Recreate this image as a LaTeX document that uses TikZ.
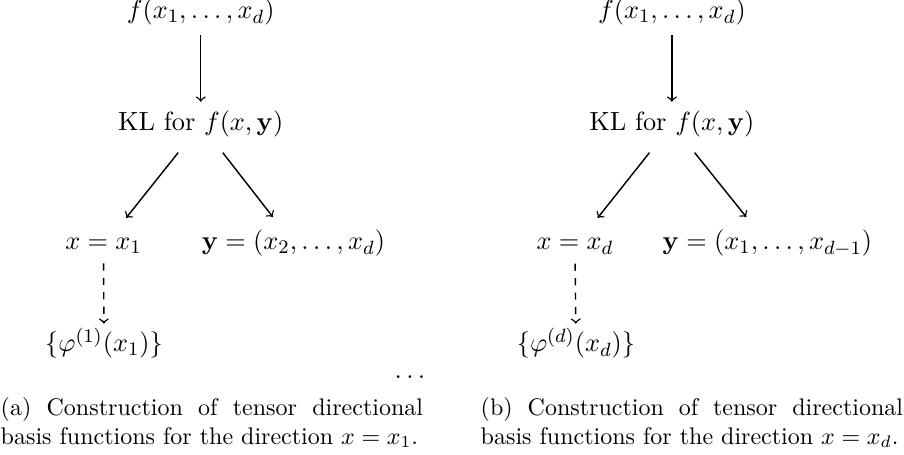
\documentclass[11pt,tikz,border=0pt]{standalone}
\begin{document}
\begin{tikzpicture}[every node/.style={anchor=base}, >=to, semithick,
    split/.style={->, shorten <=3pt},
    capt/.style={anchor=base west, text width=176pt, align=justify, font=\small,
        inner sep=0pt, execute at begin node={\hyphenpenalty=10000}}]
        \useasboundingbox (0, 0) rectangle (13.24, 6.663);
        % (a)
        \node (f1) at (2.94, 6.385) {$f(x_1, \ldots, x_d)$};
        \node (kl1) at (2.94, 4.745) {KL for $f(x, \mathbf{y})$};
        \node (x1) at (1.516, 3.002) {$x = x_1$};
        \node (y1) at (4.298, 3.002) {$\mathbf{y} = (x_2, \ldots, x_d)$};
        \node[inner sep=1.5pt] (phi1) at (1.523, 1.508) {$\{\varphi^{(1)}(x_1)\}$};
        \node (dots) at (6.004, 1.113) {$\ldots$};
        \draw[->] (f1) -- (kl1);
        \draw[split, shorten >=6pt] (kl1) -- (x1);
        \draw[split, shorten >=2pt] (kl1) -- (y1);
        \draw[->, dashed] (x1) -- (phi1);
        \node[capt] (capa) at (0, 0.578) {(a) Construction of tensor directional basis functions for the direction $x = x_1$.};
        % (b)
        \node (f2) at (9.841, 6.385) {$f(x_1, \ldots, x_d)$};
        \node (kl2) at (9.841, 4.745) {KL for $f(x, \mathbf{y})$};
        \node (x2) at (8.421, 3.002) {$x = x_d$};
        \node (y2) at (11.24, 3.002) {$\mathbf{y} = (x_1, \ldots, x_{d-1})$};
        \node[inner sep=1.5pt] (phi2) at (8.436, 1.508) {$\{\varphi^{(d)}(x_d)\}$};
        \draw[->] (f2) -- (kl2);
        \draw[split, shorten >=6pt] (kl2) -- (x2);
        \draw[split, shorten >=2pt] (kl2) -- (y2);
        \draw[->, dashed] (x2) -- (phi2);
        \node[capt] (capb) at (7.03, 0.578) {(b) Construction of tensor directional basis functions for the direction $x = x_d$.};
    \end{tikzpicture}
\end{document}
